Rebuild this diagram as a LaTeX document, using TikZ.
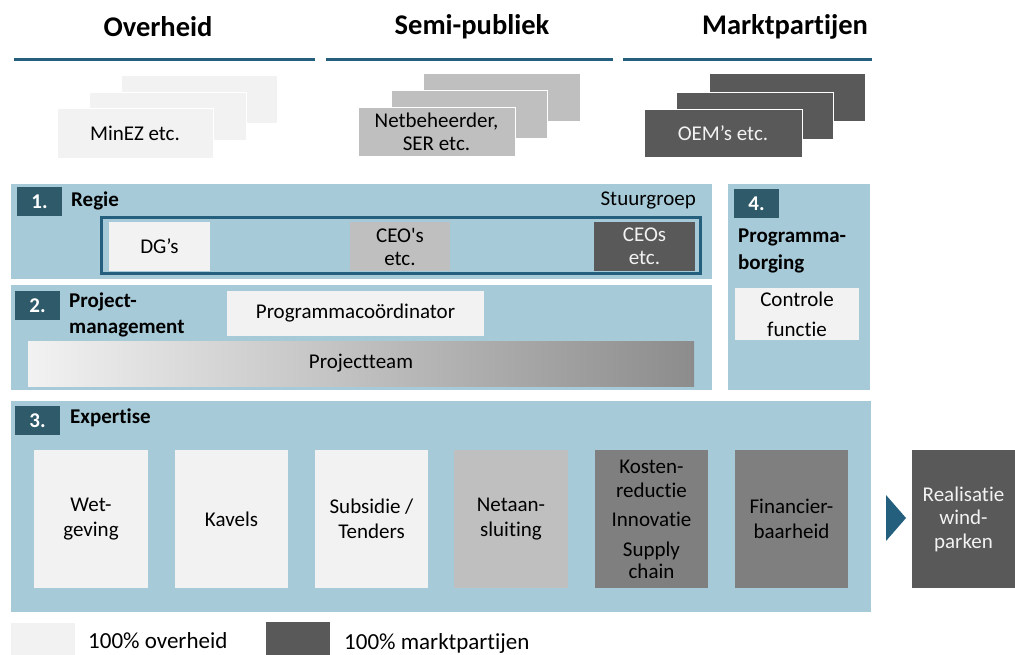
\documentclass[tikz,border=0pt]{standalone}
\usepackage{fontspec}
\setmainfont{Carlito}[Ligatures={NoCommon}]
\newfontfamily\plainf{Carlito}[Ligatures={NoCommon}]
\definecolor{lg}{HTML}{F2F2F2}
\definecolor{mg}{HTML}{BFBFBF}
\definecolor{dg}{HTML}{7F7F7F}
\definecolor{xg}{HTML}{595959}
\definecolor{panel}{HTML}{A6CAD8}
\definecolor{numc}{HTML}{2E5A6A}
\definecolor{teal}{HTML}{24607E}
\definecolor{gradend}{HTML}{8C8C8C}
\begin{document}
\begin{tikzpicture}[x=1pt,y=-1pt,
  body/.style={font=\fontsize{21}{25}\selectfont},
  area/.style n args={4}{at={({(#1+#3)/2},{(#2+#4)/2})}, minimum width={(#3-#1)*1pt}, minimum height={(#4-#2)*1pt}},
  rect/.style={inner sep=0pt, outer sep=0pt, align=center, body},
  stackbox/.style={rect, draw=white, line width=0.8pt},
  panelbox/.style={rect, fill=panel},
  numbox/.style={rect, fill=numc, text=white, font=\fontsize{21}{25}\selectfont\bfseries},
  head/.style={font=\fontsize{28.5}{34}\selectfont\bfseries, inner sep=0pt},
  lbl/.style={font=\fontsize{21}{26}\selectfont\bfseries, align=left, inner sep=0pt},
  txt/.style={body, inner sep=0pt},
  legtxt/.style={font=\fontsize{23}{27}\selectfont, inner sep=0pt},
  rule/.style={draw=teal, line width=3pt}
]
\useasboundingbox (0,0) rectangle (1015,655);

% headers
\node[head] (h1) at (158,27) {Overheid};
\node[head] (h2) at (472,27) {Semi-publiek};
\node[head] (h3) at (785,27) {Marktpartijen};
\draw[rule] (14,60) -- (315,60);
\draw[rule] (326,60) -- (613,60);
\draw[rule] (623,60) -- (872,60);

% stacks
\node[stackbox, fill=lg, area={121}{75}{277}{123}] (o3) {};
\node[stackbox, fill=lg, area={89}{92}{246}{140}] (o2) {};
\node[stackbox, fill=lg, area={57}{108}{213}{158}] (o1) {MinEZ etc.};

\node[stackbox, fill=mg, area={423}{73}{580}{121}] (s3) {};
\node[stackbox, fill=mg, area={391}{90}{547}{138}] (s2) {};
\node[stackbox, fill=mg, area={358}{107}{515}{156}, font=\fontsize{21}{23}\selectfont] (s1) {Netbeheerder,\\SER etc.};

\node[stackbox, fill=xg, area={709}{73}{865}{121}] (m3) {};
\node[stackbox, fill=xg, area={676}{92}{833}{139}] (m2) {};
\node[stackbox, fill=xg, text=lg, area={644}{109}{802}{157}] (m1) {OEM’s etc.};

% section 1
\node[panelbox, area={11}{184}{712}{279}] (p1) {};
\node[numbox, area={17}{187}{62}{216}] (n1) {1.};
\node[lbl, anchor=west] (l1) at (71,201) {Regie};
\node[txt, anchor=east] (sg) at (696,200) {Stuurgroep};
\node[rect, draw=teal, line width=3pt, area={101.5}{217.5}{700.5}{273.5}] (frame) {};
\node[rect, fill=lg, area={109}{222}{210}{271}] (dgs) {DG’s};
\node[rect, fill=mg, area={350}{222}{450}{271}, font=\fontsize{21}{23}\selectfont] (ceoa) {{\plainf CEO's}\\etc.};
\node[rect, fill=xg, text=lg, area={594}{222}{695}{271}, font=\fontsize{21}{23}\selectfont] (ceob) {CEOs\\etc.};

% section 2
\node[panelbox, area={11}{285}{712}{390}] (p2) {};
\node[numbox, area={15}{291}{60}{320}] (n2) {2.};
\node[lbl, anchor=west] (l2) at (69,315) {Project-\\management};
\node[rect, fill=lg, area={227}{291}{484}{336}] (pc) {Programmacoördinator};
\node[rect, left color=lg, right color=gradend, area={28}{341}{694}{386}] (pt) {Projectteam};

% section 4
\node[panelbox, area={728}{184}{870}{390}] (p4) {};
\node[numbox, area={734}{189}{779}{218}] (n4) {4.};
\node[lbl, anchor=west, font=\fontsize{21}{27}\selectfont\bfseries] (l4) at (738,251) {Programma-\\borging};
\node[rect, fill=lg, area={735}{288}{859}{340}, font=\fontsize{21}{30}\selectfont] (cf) {Controle\\functie};

% section 3
\node[panelbox, area={11}{401}{871}{612}] (p3) {};
\node[numbox, area={15}{406}{60}{435}] (n3) {3.};
\node[lbl, anchor=west] (l3) at (70,418) {Expertise};
\node[rect, fill=lg, area={34}{450}{148}{588}] (e1) {Wet-\\geving};
\node[rect, fill=lg, area={175}{450}{288}{588}] (e2) {Kavels};
\node[rect, fill=lg, area={315}{450}{428}{588}] (e3) {Subsidie /\\Tenders};
\node[rect, fill=mg, area={454}{450}{568}{588}] (e4) {Netaan-\\sluiting};
\node[rect, fill=dg, area={595}{450}{708}{588}, font=\fontsize{21}{22}\selectfont] (e5) {Kosten-\\[2pt]reductie\\[7pt]Innovatie\\[8pt]Supply\\chain};
\node[rect, fill=dg, area={735}{450}{848}{588}] (e6) {Financier-\\baarheid};

% arrow and result
\fill[teal] (886,495) -- (906,518) -- (886,541) -- cycle;
\node[rect, fill=xg, text=lg, area={912}{450}{1015}{588}, font=\fontsize{21}{23.5}\selectfont] (rw) {Realisatie\\wind-\\parken};

% legend
\node[rect, fill=lg, area={11}{623}{75}{655}] (lega) {};
\node[legtxt, anchor=west] (legat) at (88,641) {100\% overheid};
\node[rect, fill=xg, area={266}{622}{330}{655}] (legb) {};
\node[legtxt, anchor=west] (legbt) at (344,643) {100\% marktpartijen};
\end{tikzpicture}
\end{document}
